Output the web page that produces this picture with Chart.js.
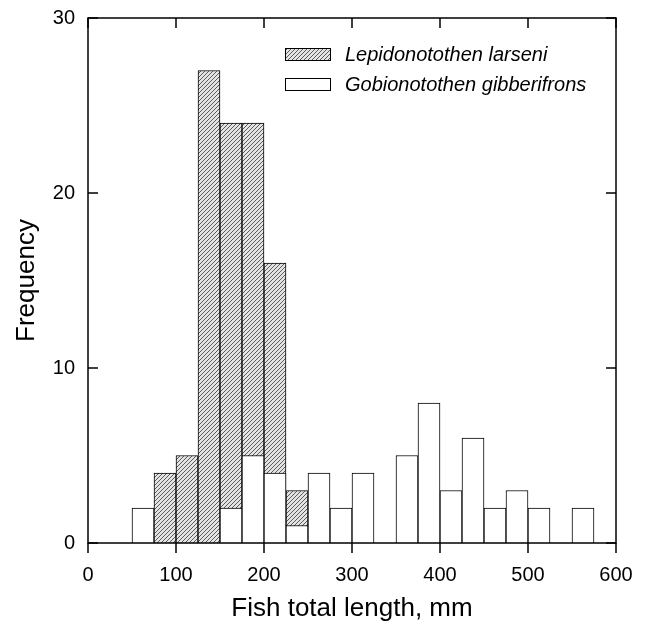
<!DOCTYPE html>
<html>
<head>
<meta charset="utf-8">
<title>Fish total length frequency</title>
<script src="https://cdn.jsdelivr.net/npm/chart.js@4.4.1/dist/chart.umd.min.js"></script>
<style>
body { margin: 0; background: #fff; }
</style>
</head>
<body>
<canvas id="histChart" width="650" height="627"></canvas>
<script>
// bin centres in mm (25 mm bins) and counts
var larseniLengths = [87.5, 112.5, 137.5, 162.5, 187.5, 212.5, 237.5];
var larseniCounts = [4, 5, 27, 24, 24, 16, 3];
var gibberifronsLengths = [62.5, 162.5, 187.5, 212.5, 237.5, 262.5, 287.5, 312.5, 362.5, 387.5, 412.5, 437.5, 462.5, 487.5, 512.5, 562.5];
var gibberifronsCounts = [2, 2, 5, 4, 1, 4, 2, 4, 5, 8, 3, 6, 2, 3, 2, 2];
var xTicks = [0, 100, 200, 300, 400, 500, 600];
var yTicks = [0, 10, 20, 30];
var seriesNames = ['Lepidonotothen larseni', 'Gobionotothen gibberifrons'];

var FONT = "'Liberation Sans', Arial, sans-serif";

function toPoints(xs, ys) {
    return xs.map(function(x, i) { return { x: x, y: ys[i] }; });
}

function makeHatch(ctx) {
    var c = document.createElement('canvas');
    c.width = 4;
    c.height = 4;
    var g = c.getContext('2d');
    g.fillStyle = '#e4e4e4';
    g.fillRect(0, 0, 4, 4);
    g.strokeStyle = '#5a5a5a';
    g.lineWidth = 1;
    g.beginPath();
    g.moveTo(0, 4); g.lineTo(4, 0);
    g.moveTo(-1, 1); g.lineTo(1, -1);
    g.moveTo(3, 5); g.lineTo(5, 3);
    g.stroke();
    return ctx.createPattern(c, 'repeat');
}

// box, inward/outward ticks and the legend inside the plot
var framePlugin = {
    id: 'frame',
    afterDatasetsDraw: function(chart) {
        var ctx = chart.ctx;
        var a = chart.chartArea;
        var xs = chart.scales.x;
        var ys = chart.scales.y;
        ctx.save();
        ctx.strokeStyle = '#000';
        ctx.lineWidth = 1.5;
        ctx.strokeRect(a.left, a.top, a.right - a.left, a.bottom - a.top);
        ctx.beginPath();
        xTicks.forEach(function(v) {
            var px = xs.getPixelForValue(v);
            ctx.moveTo(px, a.bottom);
            ctx.lineTo(px, a.bottom + 10);
            ctx.moveTo(px, a.top);
            ctx.lineTo(px, a.top + 10);
        });
        yTicks.forEach(function(v) {
            var py = ys.getPixelForValue(v);
            ctx.moveTo(a.left, py);
            ctx.lineTo(a.left + 10, py);
            ctx.moveTo(a.right, py);
            ctx.lineTo(a.right - 10, py);
        });
        ctx.stroke();

        // legend
        var lx = a.left + 197;
        var rows = [a.top + 30, a.top + 60];
        var fills = [chart.data.datasets[0].backgroundColor, '#fff'];
        ctx.lineWidth = 1;
        ctx.font = 'italic 20px ' + FONT;
        ctx.textBaseline = 'middle';
        rows.forEach(function(ry, i) {
            ctx.fillStyle = fills[i];
            ctx.fillRect(lx, ry, 46, 13);
            ctx.strokeRect(lx + 0.5, ry + 0.5, 45, 12);
            ctx.fillStyle = '#000';
            ctx.fillText(seriesNames[i], lx + 60, ry + 7);
        });
        ctx.restore();
    }
};

document.addEventListener('DOMContentLoaded', function() {
    createHistogram();
});

function createHistogram() {
    var canvas = document.getElementById('histChart');
    var ctx = canvas.getContext('2d');
    var hatch = makeHatch(ctx);

    Chart.defaults.font.family = FONT;
    Chart.defaults.color = '#000';

    var chart = new Chart(ctx, {
        type: 'bar',
        data: {
            datasets: [{
                label: seriesNames[0],
                data: toPoints(larseniLengths, larseniCounts),
                backgroundColor: hatch,
                borderColor: '#000',
                borderWidth: 1,
                order: 2
            }, {
                label: seriesNames[1],
                data: toPoints(gibberifronsLengths, gibberifronsCounts),
                backgroundColor: '#fff',
                borderColor: '#000',
                borderWidth: 1,
                order: 1
            }]
        },
        options: {
            responsive: false,
            animation: false,
            grouped: false,
            barPercentage: 1,
            categoryPercentage: 1,
            layout: { padding: { top: 18, right: 34, bottom: 0, left: 0 } },
            plugins: {
                legend: { display: false },
                tooltip: { enabled: false }
            },
            scales: {
                x: {
                    type: 'linear',
                    offset: false,
                    min: 0,
                    max: 600,
                    grid: { display: false, drawTicks: false },
                    border: { display: false },
                    ticks: { stepSize: 100, padding: 20, font: { size: 20 }, color: '#000' },
                    title: { display: true, text: 'Fish total length, mm', font: { size: 26 }, color: '#000', padding: { top: 0, bottom: 3 } },
                    afterFit: function(scale) {
                        scale.height = 84;
                        scale.paddingLeft = 0;
                        scale.paddingRight = 0;
                    }
                },
                y: {
                    min: 0,
                    max: 30,
                    grid: { display: false, drawTicks: false },
                    border: { display: false },
                    ticks: { stepSize: 10, padding: 13, font: { size: 20 }, color: '#000' },
                    title: { display: true, text: 'Frequency', font: { size: 26 }, color: '#000', padding: { top: 11, bottom: 0 } },
                    afterFit: function(scale) {
                        scale.width = 88;
                        scale.paddingTop = 0;
                        scale.paddingBottom = 0;
                    }
                }
            }
        },
        plugins: [framePlugin]
    });
}
</script>
</body>
</html>
